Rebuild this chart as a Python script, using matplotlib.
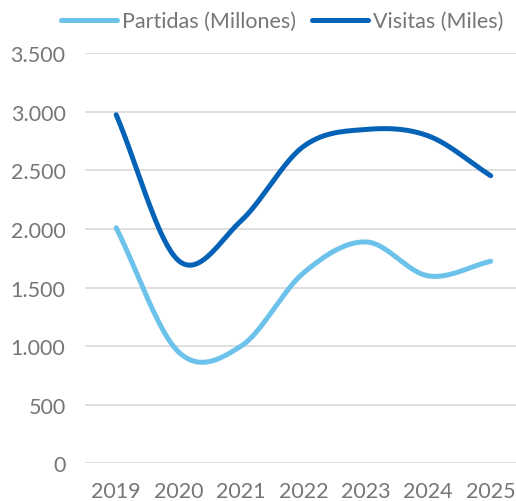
import numpy as np
import matplotlib
matplotlib.use('Agg')
import matplotlib.pyplot as plt
from matplotlib.ticker import FuncFormatter

plt.rcParams['font.family'] = ['Lato', 'DejaVu Sans']

years = ['2019', '2020', '2021', '2022', '2023', '2024', '2025']
partidas = [2010, 950, 1000, 1625, 1890, 1600, 1725]
visitas = [2975, 1730, 2070, 2705, 2850, 2795, 2455]


def smooth(y, n=40):
    # catmull-rom spline, like excel's smoothed line
    y = np.asarray(y, dtype=float)
    x = np.arange(len(y), dtype=float)
    m = np.zeros_like(y)
    m[1:-1] = (y[2:] - y[:-2]) / 2
    m[0] = y[1] - y[0]
    m[-1] = y[-1] - y[-2]
    xs, ys = [], []
    for i in range(len(y) - 1):
        t = np.linspace(0, 1, n, endpoint=(i == len(y) - 2))
        h00 = 2 * t**3 - 3 * t**2 + 1
        h10 = t**3 - 2 * t**2 + t
        h01 = -2 * t**3 + 3 * t**2
        h11 = t**3 - t**2
        xs.append(x[i] + t)
        ys.append(h00 * y[i] + h10 * m[i] + h01 * y[i + 1] + h11 * m[i + 1])
    return np.concatenate(xs), np.concatenate(ys)


fig = plt.figure(figsize=(5.16, 5.02), dpi=100)
ax = fig.add_axes([0.1647, 0.0751, 0.8353, 0.8167])

xs, ys = smooth(partidas)
ax.plot(xs, ys, color='#6CC2EA', lw=3.6, solid_capstyle='round', label='Partidas (Millones)')
xs, ys = smooth(visitas)
ax.plot(xs, ys, color='#0563B7', lw=3.6, solid_capstyle='round', label='Visitas (Miles)')

ax.set_xlim(-0.5, 6.405)
ax.set_ylim(0, 3500)
ax.set_yticks(np.arange(0, 3501, 500))
ax.yaxis.set_major_formatter(FuncFormatter(lambda v, p: f'{int(v):,}'.replace(',', '.')))
ax.set_xticks(range(len(years)))
ax.set_xticklabels(years)
ax.grid(axis='y', color='#D9D9D9', lw=1.2)
ax.set_axisbelow(True)
for s in ax.spines.values():
    s.set_visible(False)
ax.tick_params(length=0, labelsize=15.5, labelcolor='#767676')
ax.tick_params(axis='y', pad=14)
ax.tick_params(axis='x', pad=13)

fig.legend(loc='center', bbox_to_anchor=(0.547, 0.956), ncol=2, frameon=False,
           fontsize=15.5, labelcolor='#767676', handlelength=2.6, handletextpad=0.23,
           columnspacing=0.74, borderpad=0, borderaxespad=0)

fig.savefig('out.png', dpi=100)
